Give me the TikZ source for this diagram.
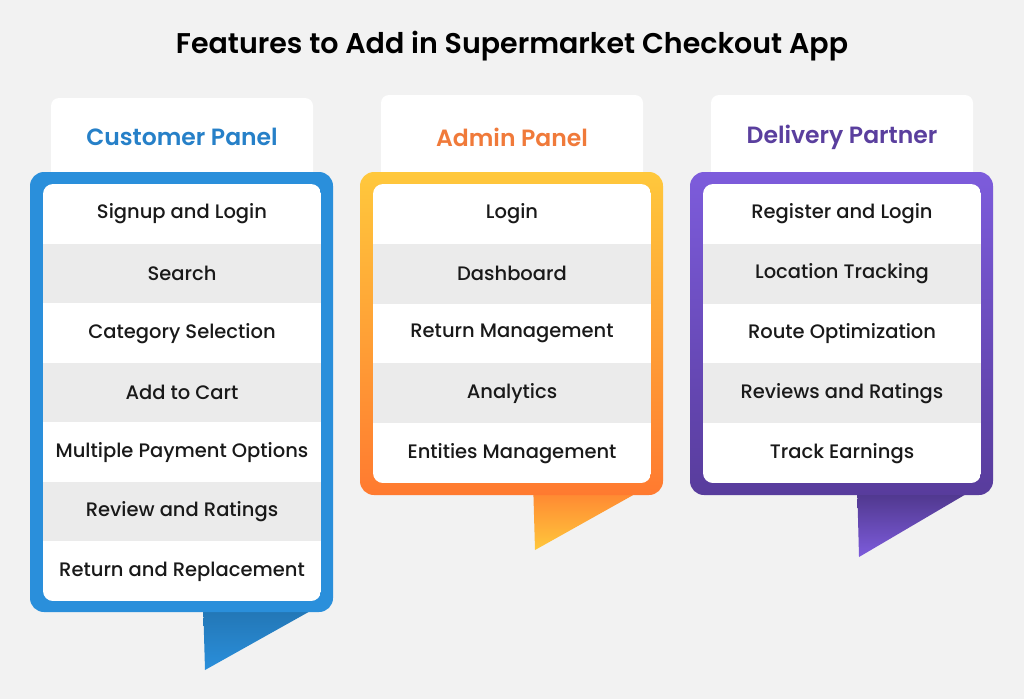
\documentclass[tikz,border=0pt]{standalone}
\usepackage{fontspec}
\setmainfont{Poppins}
\newfontfamily\medf{Poppins Medium}
\newfontfamily\semif{Poppins SemiBold}
\begin{document}
\begin{tikzpicture}[x=1pt,y=-1pt,
  row/.style={font=\medf\fontsize{19.5}{22}\selectfont, text=black!90},
  head/.style={font=\semif\fontsize{23.5}{26}\selectfont},
  tab/.style={fill=white, rounded corners=8pt}]
\definecolor{bg}{HTML}{F2F2F2}
\definecolor{rowg}{HTML}{EBEBEB}
\definecolor{cblue}{HTML}{2A8FDB}
\definecolor{ctitle}{HTML}{2680C8}
\definecolor{ayel}{HTML}{FFC83C}
\definecolor{aora}{HTML}{FF7A30}
\definecolor{atitle}{HTML}{F07A3A}
\definecolor{ptop}{HTML}{7D5CDC}
\definecolor{pbot}{HTML}{583C9C}
\definecolor{ptitle}{HTML}{5A3F9E}
\fill[bg] (0,0) rectangle (1024,699);
\useasboundingbox (0,0) rectangle (1024,699);
\node[font=\semif\fontsize{28.5}{32}\selectfont] (title) at (512,46) {Features to Add in Supermarket Checkout App};
% ---------- Customer
\fill[tab] (51,98) rectangle (313,190);
\node[head,text=ctitle] (ch) at (182,137) {Customer Panel};
\shade[top color=cblue!80!black, bottom color=cblue] (203,600) -- (330,600) -- (205,670) -- cycle;
\fill[cblue, rounded corners=14pt] (30,172) rectangle (333,612);
\begin{scope}
\clip[rounded corners=10pt] (43,184) rectangle (321,601);
\foreach \i in {0,...,6}{
  \pgfmathsetmacro\ya{184+\i*59.57}
  \pgfmathsetmacro\yb{184+(\i+1)*59.57}
  \ifodd\i \fill[rowg] (43,\ya) rectangle (321,\yb); \else \fill[white] (43,\ya) rectangle (321,\yb); \fi
}
\end{scope}
\foreach \t [count=\i from 0] in {Signup and Login,Search,Category Selection,Add to Cart,Multiple Payment Options,Review and Ratings,Return and Replacement}
  \node[row] (c\i) at (182,{214+\i*59.57}) {\t};
% ---------- Admin
\fill[tab] (381,95) rectangle (643,190);
\node[head,text=atitle] (ah) at (512,137) {Admin Panel};
\shade[top color=aora, bottom color=ayel] (533,480) -- (660,480) -- (535,550) -- cycle;
\shade[top color=ayel, bottom color=aora, rounded corners=14pt] (360,172) rectangle (663,495);
\begin{scope}
\clip[rounded corners=10pt] (373,184) rectangle (651,483);
\foreach \i in {0,...,4}{
  \pgfmathsetmacro\ya{184+\i*59.8}
  \pgfmathsetmacro\yb{184+(\i+1)*59.8}
  \ifodd\i \fill[rowg] (373,\ya) rectangle (651,\yb); \else \fill[white] (373,\ya) rectangle (651,\yb); \fi
}
\end{scope}
\foreach \t [count=\i from 0] in {Login,Dashboard,Return Management,Analytics,Entities Management}
  \node[row] (a\i) at (512,{214+\i*59.8}) {\t};
% ---------- Delivery
\fill[tab] (711,95) rectangle (973,190);
\node[head,text=ptitle] (dh) at (842,137) {Delivery Partner};
\shade[top color=pbot!80!black, bottom color=ptop] (857,480) -- (990,480) -- (859,557) -- cycle;
\shade[top color=ptop, bottom color=pbot, rounded corners=14pt] (690,172) rectangle (993,495);
\begin{scope}
\clip[rounded corners=10pt] (703,184) rectangle (981,483);
\foreach \i in {0,...,4}{
  \pgfmathsetmacro\ya{184+\i*59.8}
  \pgfmathsetmacro\yb{184+(\i+1)*59.8}
  \ifodd\i \fill[rowg] (703,\ya) rectangle (981,\yb); \else \fill[white] (703,\ya) rectangle (981,\yb); \fi
}
\end{scope}
\foreach \t [count=\i from 0] in {Register and Login,Location Tracking,Route Optimization,Reviews and Ratings,Track Earnings}
  \node[row] (d\i) at (842,{214+\i*59.8}) {\t};
\end{tikzpicture}
\end{document}
